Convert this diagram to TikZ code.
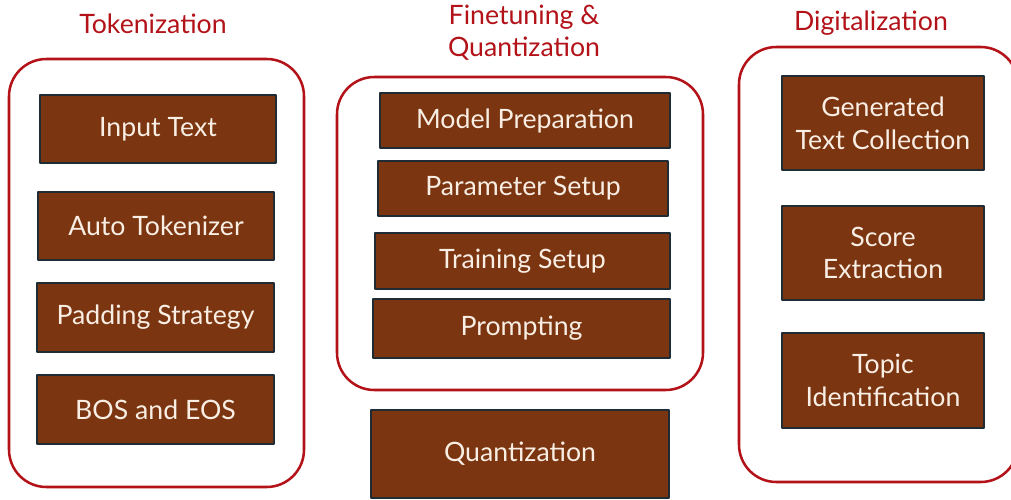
\documentclass[tikz,border=0pt]{standalone}
\usepackage{fontspec}
\setmainfont{Lato}
\usepackage{xcolor}
\usetikzlibrary{arrows.meta,positioning,calc}
\definecolor{boxbrown}{RGB}{123,53,16}
\definecolor{boxedge}{RGB}{32,44,52}
\definecolor{groupred}{RGB}{178,18,24}
\definecolor{stagetext}{RGB}{248,238,228}
\tikzset{
    stage/.style={draw=boxedge,line width=1.4pt,fill=boxbrown,text=stagetext,inner sep=0pt,align=center,font=\fontsize{20}{24.5}\selectfont},
    group/.style={draw=groupred,line width=1.9pt,rounded corners=28pt},
    grouptitle/.style={text=groupred,align=center,font=\fontsize{20}{24}\selectfont}
}
\begin{document}
\begin{tikzpicture}[line cap=round,line join=round,x=0.75pt,y=-0.75pt]
                \clip (0,0) rectangle (1011,500);
                \draw [group] (9,59) rectangle (304,487);
                \draw [group] (337,77) rectangle (703,390);
                \draw [group] (739,47) rectangle (1018,482);
                \node[grouptitle] (tokt) at (153,24) {Tokenization};
                \node[grouptitle] (fqt) at (524,33) {Finetuning \&\\Quantization};
                \node[grouptitle] (digt) at (871,23) {Digitalization};
                \node[stage,minimum width=177pt,minimum height=51pt] (input) at (158,129) {Input Text};
                \node[stage,minimum width=177pt,minimum height=51pt] (autotok) at (156,226) {Auto Tokenizer};
                \node[stage,minimum width=178pt,minimum height=52pt] (padding) at (155.5,317.5) {Padding Strategy};
                \node[stage,minimum width=178pt,minimum height=52pt] (bos) at (155.5,409.5) {BOS and EOS};
                \node[stage,minimum width=217.5pt,minimum height=41.3pt] (modelprep) at (525,120.5) {Model Preparation};
                \node[stage,minimum width=217.5pt,minimum height=41.3pt] (param) at (523,188.5) {Parameter Setup};
                \node[stage,minimum width=221.3pt,minimum height=42pt] (training) at (522.5,261) {Training Setup};
                \node[stage,minimum width=222.8pt,minimum height=44.3pt] (prompting) at (521.5,328.5) {Prompting};
                \node[stage,minimum width=223.5pt,minimum height=66pt] (quant) at (520,454) {Quantization};
                \node[stage,minimum width=151.5pt,minimum height=70.5pt] (gentext) at (883,123) {Generated\\Text Collection};
                \node[stage,minimum width=151.5pt,minimum height=70.5pt] (score) at (883,253) {Score\\Extraction};
                \node[stage,minimum width=151.5pt,minimum height=71.3pt] (topic) at (883,380.5) {Topic\\Identification};
            \end{tikzpicture}
\end{document}
